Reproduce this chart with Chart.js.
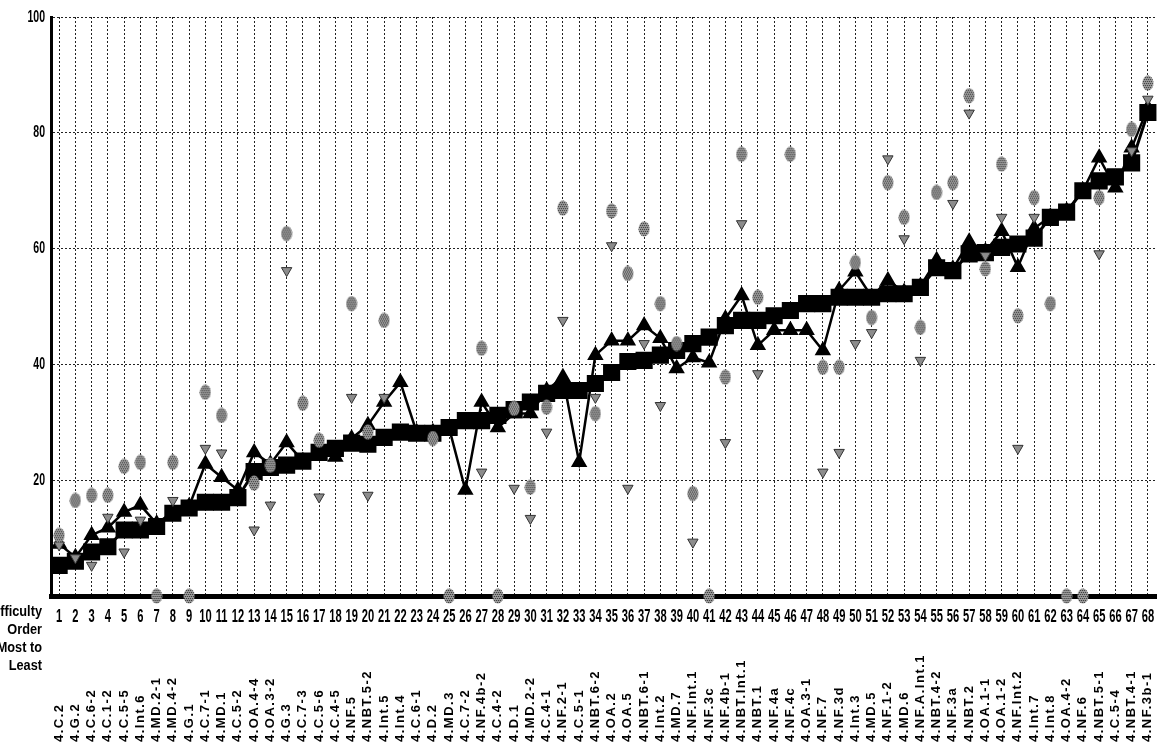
<!DOCTYPE html>
<html>
<head>
<meta charset="utf-8">
<script src="https://cdn.jsdelivr.net/npm/chart.js@4.4.0/dist/chart.umd.min.js"></script>
<style>
  html, body { margin: 0; padding: 0; background: #fff; }
  #wrap { width: 1169px; height: 746px; }
</style>
</head>
<body>
<div id="wrap"><canvas id="difficultyChart"></canvas></div>
<script>
// difficulty order 1..68 (most to least)
var orderLabels = ['1','2','3','4','5','6','7','8','9','10','11','12','13','14','15','16','17','18','19','20',
  '21','22','23','24','25','26','27','28','29','30','31','32','33','34','35','36','37','38','39','40',
  '41','42','43','44','45','46','47','48','49','50','51','52','53','54','55','56','57','58','59','60',
  '61','62','63','64','65','66','67','68'];

var standards = ['4.C.2','4.G.2','4.C.6-2','4.C.1-2','4.C.5-5','4.Int.6','4.MD.2-1','4.MD.4-2','4.G.1','4.C.7-1',
  '4.MD.1','4.C.5-2','4.OA.4-4','4.OA.3-2','4.G.3','4.C.7-3','4.C.5-6','4.C.4-5','4.NF.5','4.NBT.5-2',
  '4.Int.5','4.Int.4','4.C.6-1','4.D.2','4.MD.3','4.C.7-2','4.NF.4b-2','4.C.4-2','4.D.1','4.MD.2-2',
  '4.C.4-1','4.NF.2-1','4.C.5-1','4.NBT.6-2','4.OA.2','4.OA.5','4.NBT.6-1','4.Int.2','4.MD.7','4.NF.Int.1',
  '4.NF.3c','4.NF.4b-1','4.NBT.Int.1','4.NBT.1','4.NF.4a','4.NF.4c','4.OA.3-1','4.NF.7','4.NF.3d','4.Int.3',
  '4.MD.5','4.NF.1-2','4.MD.6','4.NF.A.Int.1','4.NBT.4-2','4.NF.3a','4.NBT.2','4.OA.1-1','4.OA.1-2','4.NF.Int.2',
  '4.Int.7','4.Int.8','4.OA.4-2','4.NF.6','4.NBT.5-1','4.C.5-4','4.NBT.4-1','4.NF.3b-1'];

var yTicks = [20, 40, 60, 80, 100];

// black squares
var overall = [5.3,6.0,7.6,8.5,11.4,11.4,12,14.3,15.2,16.2,
  16.2,17,21.5,22.2,22.6,23.3,24.8,25.5,26.4,26.2,
  27.4,28.3,28.1,28.1,29.1,30.3,30.3,31.2,32.2,33.5,
  35,35.5,35.5,36.7,38.6,40.5,40.7,41.6,42.4,43.6,
  44.7,46.7,47.6,47.6,48.4,49.3,50.5,50.5,51.6,51.6,
  51.6,52.2,52.2,53.3,56.7,56.2,59.1,59.3,60.2,60.8,
  61.8,65.4,66.3,70,71.7,72.4,74.8,83.5];

// black triangles
var groupA = [9,6.7,10.5,11.8,14.5,15.7,12.5,14.5,15.5,22.8,
  20.5,18.3,24.8,22.8,26.5,23.3,25.2,24,27.2,29.5,
  33.5,36.9,28.3,28.3,29,18.3,33.5,29.1,31.5,31.5,
  35.5,37.8,23.1,41.6,44.1,44.1,46.7,44.5,39.3,41.2,
  40.3,47.9,51.9,43.3,45.9,45.9,45.9,42.4,52.8,56,
  51.7,54.5,52.5,53.5,58,56.5,61.2,59.5,63,56.8,
  63.5,65.5,66.5,70,75.7,70.5,77.4,84.3];

// grey dots
var groupB = [10.5,16.5,17.4,17.4,22.4,23.1,0,23.1,0,35.2,
  31.2,null,19.5,22.6,62.6,33.3,26.9,null,50.5,28.3,
  47.6,null,null,27.2,0,null,42.8,0,32.4,18.8,
  32.6,67,null,31.5,66.5,55.7,63.4,50.5,43.6,17.7,
  0,37.8,76.3,51.6,null,76.3,null,39.5,39.5,57.6,
  48.1,71.4,65.4,46.4,69.7,71.4,86.4,56.5,74.6,48.4,
  68.8,50.5,0,0,68.8,null,80.6,88.6];

// grey down triangles
var groupC = [8.8,6.6,5.3,13.6,7.6,13.1,null,16.5,null,25.5,
  24.7,null,11.4,15.7,56.2,null,17.1,null,34.3,17.4,
  34.3,null,null,null,null,null,21.4,null,18.6,13.4,
  28.3,47.6,null,34.3,60.5,18.6,43.6,32.9,null,9.3,
  null,26.5,64.3,38.4,null,null,null,21.4,24.8,43.6,
  45.5,75.5,61.7,40.7,null,67.8,83.4,58.8,65.4,25.5,
  65.4,null,null,null,59.1,null,76.9,85.8];

var caption = ['Difficulty', 'Order', 'Most to', 'Least'];

var FONT = '"Liberation Sans", Arial, sans-serif';

// stippled grey oval like the scanned markers
function makeDot() {
  var c = document.createElement('canvas');
  c.width = 12; c.height = 16;
  var g = c.getContext('2d');
  g.beginPath();
  g.ellipse(6, 8, 5.5, 7.5, 0, 0, Math.PI * 2);
  g.fillStyle = '#9a9a9a';
  g.fill();
  g.save();
  g.clip();
  g.fillStyle = '#333';
  for (var yy = 0; yy < 16; yy += 2) {
    for (var xx = (yy / 2) % 2; xx < 12; xx += 2) g.fillRect(xx, yy, 1, 1);
  }
  g.restore();
  return c;
}
var dot = makeDot();

// draw narrow (squeezed) text at x,y
function narrowText(ctx, t, x, y, sx) {
  ctx.save();
  ctx.translate(x, y);
  ctx.scale(sx, 1);
  ctx.fillText(t, 0, 0);
  ctx.restore();
}

var axisText = {
  id: 'axisText',
  afterDraw: function(chart) {
    var ctx = chart.ctx, x = chart.scales.x, y = chart.scales.y;
    ctx.save();
    ctx.fillStyle = '#000';
    ctx.textBaseline = 'middle';

    // order numbers
    ctx.textAlign = 'center';
    ctx.font = 'bold 18px ' + FONT;
    orderLabels.forEach(function(t, i) {
      narrowText(ctx, t, x.getPixelForValue(i), 617, 0.62);
    });

    // y tick labels
    ctx.textAlign = 'right';
    ctx.font = 'bold 17px ' + FONT;
    yTicks.forEach(function(v) {
      narrowText(ctx, String(v), 45, y.getPixelForValue(v), 0.62);
    });

    // caption at the left, cut by the edge
    ctx.font = 'bold 15px ' + FONT;
    caption.forEach(function(t, k) {
      narrowText(ctx, t, 42, 612 + k * 18, 0.85);
    });

    // standard names, rotated
    ctx.font = 'bold 13px ' + FONT;
    ctx.letterSpacing = '1.5px';
    ctx.textAlign = 'left';
    standards.forEach(function(s, i) {
      ctx.save();
      ctx.translate(x.getPixelForValue(i), 742);
      ctx.rotate(-Math.PI / 2);
      ctx.fillText(s, 0, 0);
      ctx.restore();
    });
    ctx.restore();
  }
};

var ctx = document.getElementById('difficultyChart').getContext('2d');
var chart = new Chart(ctx, {
  type: 'line',
  data: {
    labels: orderLabels,
    datasets: [{
      data: groupB,
      showLine: false,
      pointStyle: dot,
      pointRadius: 7,
      clip: false
    }, {
      data: groupC,
      showLine: false,
      pointStyle: 'triangle',
      rotation: 180,
      pointRadius: 6,
      backgroundColor: '#8c8c8c',
      borderColor: '#333',
      borderWidth: 1,
      clip: false
    }, {
      data: overall,
      borderColor: '#000',
      backgroundColor: '#000',
      borderWidth: 3,
      pointStyle: 'rect',
      pointRadius: 10,
      clip: false
    }, {
      data: groupA,
      borderColor: '#000',
      backgroundColor: '#000',
      borderWidth: 2.5,
      pointStyle: 'triangle',
      pointRadius: 7,
      clip: false
    }]
  },
  options: {
    responsive: true,
    maintainAspectRatio: false,
    animation: false,
    events: [],
    layout: { padding: { top: 17, right: 3, left: 0, bottom: 0 } },
    plugins: {
      legend: { display: false },
      tooltip: { enabled: false }
    },
    scales: {
      x: {
        offset: true,
        afterFit: function(s) { s.height = 150; },
        grid: { color: '#222', lineWidth: 1, drawTicks: false },
        border: { color: '#000', width: 5, dash: [2, 2] },
        ticks: { display: false, autoSkip: false }
      },
      y: {
        min: 0,
        max: 100,
        afterFit: function(s) { s.width = 51; },
        grid: { color: '#222', lineWidth: 1, drawTicks: false },
        border: { color: '#000', width: 3, dash: [2, 2] },
        ticks: { display: false, stepSize: 20 }
      }
    }
  },
  plugins: [axisText]
});
</script>
</body>
</html>
